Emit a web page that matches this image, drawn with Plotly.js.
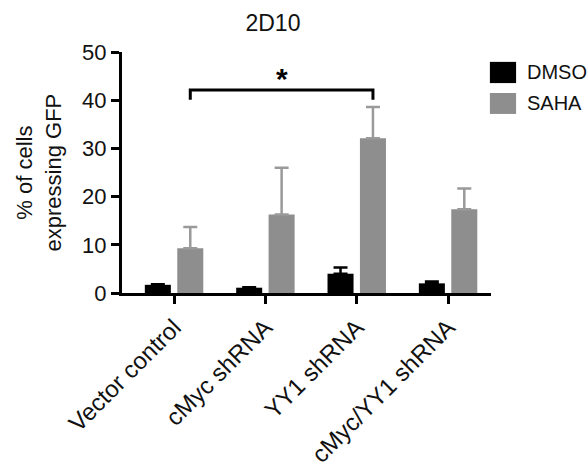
<!DOCTYPE html>
<html>
<head>
<meta charset="utf-8">
<script src="https://cdn.plot.ly/plotly-3.0.1.min.js"></script>
<style>html,body{margin:0;padding:0;background:#fff;}#chart{width:587px;height:470px;}</style>
</head>
<body>
<div id="chart"></div>
<script>
// ---- data ----
var categories = ["Vector control", "cMyc shRNA", "YY1 shRNA", "cMyc/YY1 shRNA"];
var seriesNames = ["DMSO", "SAHA"];
var dmsoValues = [1.7, 1.1, 4.0, 2.0];
var dmsoErrors = [0.1, 0.1, 1.3, 0.4];
var sahaValues = [9.3, 16.3, 32.1, 17.4];
var sahaErrors = [4.4, 9.7, 6.5, 4.3];
var yTickValues = [0, 10, 20, 30, 40, 50];
var bracketFrom = 0;   // index of first compared group (SAHA bar)
var bracketTo = 2;     // index of second compared group (SAHA bar)
var bracketLevels = [40.1, 42.1];
var starLevel = 44.6;
var titleText = "2D10";
var yTitleText = "% of cells<br>expressing GFP";

// ---- style ----
var FONT = "Liberation Sans, Arial, Helvetica, sans-serif";
var colors = ["#000000", "#8e8e8e"];
var errColors = ["#000000", "#9a9a9a"];
var barWidth = 0.285;
var offsets = [-0.32, 0.035];
var idx = categories.map(function (_, i) { return i; });

function barTrace(k, vals, errs) {
  return {
    type: "bar",
    name: seriesNames[k],
    x: idx,
    y: vals,
    width: barWidth,
    offset: offsets[k],
    marker: { color: colors[k], line: { width: 0 } },
    error_y: {
      type: "data", symmetric: false, array: errs,
      arrayminus: errs.map(function () { return 0; }),
      color: errColors[k], thickness: 2.5, width: 7
    },
    showlegend: false,
    hoverinfo: "skip"
  };
}

var sahaCenter = offsets[1] + barWidth / 2;
var bx0 = bracketFrom + sahaCenter, bx1 = bracketTo + sahaCenter;
var bracket = {
  type: "scatter", mode: "lines",
  x: [bx0, bx0, bx1, bx1],
  y: [bracketLevels[0], bracketLevels[1], bracketLevels[1], bracketLevels[0]],
  line: { color: "#000", width: 3 },
  showlegend: false, hoverinfo: "skip"
};

var data = [barTrace(0, dmsoValues, dmsoErrors), barTrace(1, sahaValues, sahaErrors), bracket];

// legend drawn as shapes/annotations (large swatches)
var legShapes = [], legAnn = [];
var legY = [[0.959, 0.871], [0.830, 0.743]];
seriesNames.forEach(function (n, k) {
  legShapes.push({
    type: "rect", xref: "paper", yref: "paper",
    x0: 0.997, x1: 1.068, y0: legY[k][1], y1: legY[k][0],
    fillcolor: colors[k], line: { width: 0 }
  });
  legAnn.push({
    xref: "paper", yref: "paper", x: 1.092, y: (legY[k][0] + legY[k][1]) / 2,
    xanchor: "left", yanchor: "middle", text: n, showarrow: false,
    font: { family: FONT, size: 20, color: "#111" }
  });
});

var layout = {
  width: 587, height: 470,
  margin: { l: 122, r: 96, t: 52, b: 177 },
  paper_bgcolor: "#fff", plot_bgcolor: "#fff",
  font: { family: FONT, color: "#111" },
  title: {
    text: titleText, x: 0.465, xanchor: "center", xref: "container",
    y: 1 - 23 / 470, yanchor: "middle", yref: "container",
    font: { family: FONT, size: 23, color: "#111" }
  },
  xaxis: {
    range: [-0.57, 3.47], tickvals: idx, ticktext: categories,
    tickangle: -45, showgrid: false, zeroline: false,
    showline: true, linecolor: "#000", linewidth: 3,
    ticks: "outside", ticklen: 8, tickwidth: 3, tickcolor: "#000",
    tickfont: { family: FONT, size: 24, color: "#111" }, fixedrange: true
  },
  yaxis: {
    range: [0, 50], tickvals: yTickValues, showgrid: false, zeroline: false,
    showline: true, linecolor: "#000", linewidth: 3,
    ticks: "outside", ticklen: 8, tickwidth: 3, tickcolor: "#000",
    tickfont: { family: FONT, size: 22, color: "#111" }, fixedrange: true
  },
  shapes: legShapes,
  annotations: legAnn.concat([
    {
      xref: "x", yref: "y", x: (bx0 + bx1) / 2, y: starLevel,
      text: "<b>*</b>", showarrow: false, xanchor: "center", yanchor: "middle",
      font: { family: FONT, size: 30, color: "#000" }
    },
    {
      xref: "paper", yref: "paper", x: -0.225, y: 0.5,
      text: yTitleText, showarrow: false, textangle: -90,
      xanchor: "center", yanchor: "middle",
      font: { family: FONT, size: 22, color: "#111" }
    }
  ]),
  showlegend: false
};

Plotly.newPlot("chart", data, layout, { displayModeBar: false, staticPlot: true });
</script>
</body>
</html>
